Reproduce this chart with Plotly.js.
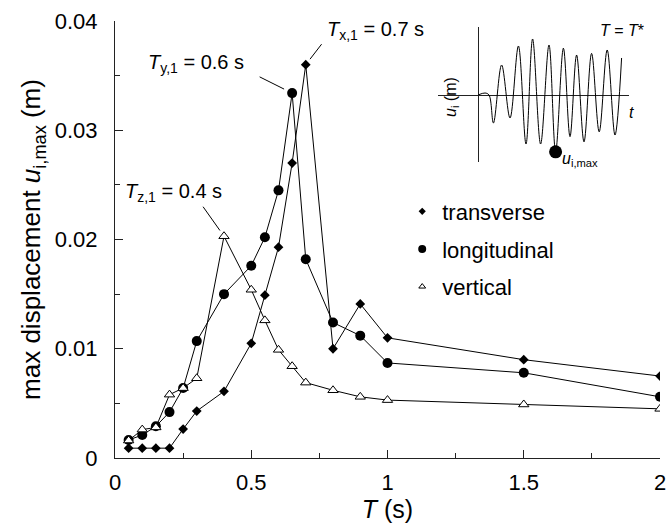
<!DOCTYPE html>
<html>
<head>
<meta charset="utf-8">
<script src="https://cdn.plot.ly/plotly-3.0.1.min.js"></script>
<style>html,body{margin:0;padding:0;background:#fff;}#chart{width:667px;height:531px;}</style>
</head>
<body>
<div id="chart"></div>
<script>
// Period T (s)
const periods = [0.05, 0.1, 0.15, 0.2, 0.25, 0.3, 0.4, 0.5, 0.55, 0.6, 0.65, 0.7, 0.8, 0.9, 1.0, 1.5, 2.0];
// max displacement u_i,max (m)
const transverse   = [0.0009, 0.0009, 0.0009, 0.0009, 0.00265, 0.0043, 0.0061, 0.0105, 0.0149, 0.0193, 0.0270, 0.0360, 0.0100, 0.0141, 0.0110, 0.0090, 0.0075];
const longitudinal = [0.00165, 0.0021, 0.0029, 0.0042, 0.0064, 0.0107, 0.0150, 0.0176, 0.0202, 0.0245, 0.0334, 0.0182, 0.0124, 0.0112, 0.0087, 0.0078, 0.0056];
const vertical     = [0.0016, 0.0026, 0.0028, 0.0058, 0.0064, 0.0073, 0.0203, 0.0154, 0.0126, 0.0099, 0.0084, 0.0069, 0.0062, 0.0056, 0.0053, 0.0049, 0.0045];
const seriesNames = ['transverse', 'longitudinal', 'vertical'];

// Inset schematic: extrema of the displacement history (arbitrary units)
const insetT = [0, 0.35, 0.55, 0.77, 1.18, 1.60, 2.02, 2.40, 2.73, 3.13, 3.55, 3.88, 4.27, 4.60, 4.93, 5.30, 5.68, 6.06, 6.46, 6.85, 7.18];
const insetU = [0, 0.05, 0, -0.70, 0.75, -0.575, 1.225, -1.225, 1.40, -1.225, 1.25, -1.42, 1.17, -1.04, 1.0, -1.17, 1.04, -0.92, 1.125, -1.0, 0.925];
const insetMaxT = [3.88];
const insetMaxU = [-1.42];

const FONT = 'Liberation Sans, Arial, sans-serif';
const ink = '#000';

const traces = [
  {x: periods, y: transverse, mode: 'lines+markers', showlegend: false,
   line: {color: ink, width: 1}, marker: {symbol: 'diamond', size: 7.5, color: ink}},
  {x: periods, y: longitudinal, mode: 'lines+markers', showlegend: false,
   line: {color: ink, width: 1}, marker: {symbol: 'circle', size: 10, color: ink}},
  {x: periods, y: vertical, mode: 'lines+markers', showlegend: false,
   line: {color: ink, width: 1}, marker: {symbol: 'triangle-up', size: 9, color: '#fff', line: {color: ink, width: 1}}},
  // legend entries (markers only)
  {x: [null], y: [null], mode: 'markers', name: seriesNames[0], legendgroup: 'a',
   marker: {symbol: 'diamond', size: 5.5, color: ink}},
  {x: [null], y: [null], mode: 'markers', name: seriesNames[1], legendgroup: 'b',
   marker: {symbol: 'circle', size: 8, color: ink}},
  {x: [null], y: [null], mode: 'markers', name: seriesNames[2], legendgroup: 'c',
   marker: {symbol: 'triangle-up', size: 6, color: '#fff', line: {color: ink, width: 1}}},
  // inset
  {x: insetT, y: insetU, xaxis: 'x2', yaxis: 'y2', mode: 'lines', showlegend: false,
   line: {color: ink, width: 1, shape: 'spline', smoothing: 1}},
  {x: insetMaxT, y: insetMaxU, xaxis: 'x2', yaxis: 'y2', mode: 'markers', showlegend: false,
   marker: {symbol: 'circle', size: 13, color: ink}}
];

const annFont = {family: FONT, size: 20, color: ink};
const insFont = {family: FONT, size: 16, color: ink};

const layout = {
  width: 667, height: 531,
  margin: {l: 115, r: 7, t: 21, b: 73},
  paper_bgcolor: '#fff', plot_bgcolor: '#fff',
  font: {family: FONT, color: ink, size: 22},
  showlegend: true,
  legend: {x: 0.527, y: 0.612, xanchor: 'left', yanchor: 'top', bgcolor: 'rgba(0,0,0,0)',
           font: {family: FONT, size: 22, color: ink}, traceorder: 'grouped', tracegroupgap: 6},
  xaxis: {
    range: [0, 2], showgrid: false, zeroline: false,
    showline: true, linecolor: '#222', linewidth: 1,
    ticks: 'inside', ticklen: 8, tickcolor: '#222', dtick: 0.5, tick0: 0,
    tickfont: {family: FONT, size: 22, color: ink}, ticklabelstandoff: 5,
    minor: {dtick: 0.25, ticks: 'inside', ticklen: 5, tickcolor: '#222'},
    title: {text: '<i>T</i> (s)', font: {family: FONT, size: 25, color: ink}, standoff: 4}
  },
  yaxis: {
    range: [0, 0.04], showgrid: false, zeroline: false,
    showline: true, linecolor: '#222', linewidth: 1,
    ticks: 'inside', ticklen: 8, tickcolor: '#222', dtick: 0.01, tick0: 0,
    tickfont: {family: FONT, size: 22, color: ink}, ticklabelstandoff: 12,
    minor: {dtick: 0.005, ticks: 'inside', ticklen: 5, tickcolor: '#222'},
    title: {text: 'max displacement <i>u</i><sub>i,max</sub> (m)', font: {family: FONT, size: 26, color: ink}, standoff: 6}
  },
  xaxis2: {domain: [0.5927, 0.9431], anchor: 'y2', range: [-2.0, 7.55],
           showgrid: false, showline: false, showticklabels: false, ticks: '',
           zeroline: true, zerolinecolor: '#222', zerolinewidth: 1, fixedrange: true},
  yaxis2: {domain: [0.6773, 0.9863], anchor: 'x2', range: [-1.675, 1.7],
           showgrid: false, showline: false, showticklabels: false, ticks: '',
           zeroline: true, zerolinecolor: '#222', zerolinewidth: 1, fixedrange: true},
  annotations: [
    // callout texts
    {xref: 'x', yref: 'y', x: 0.112, y: 0.0361, xanchor: 'left', yanchor: 'middle', showarrow: false,
     text: '<i>T</i><sub>y,1</sub> = 0.6 s', font: annFont},
    {xref: 'x', yref: 'y', x: 0.771, y: 0.0391, xanchor: 'left', yanchor: 'middle', showarrow: false,
     text: '<i>T</i><sub>x,1</sub> = 0.7 s', font: annFont},
    {xref: 'x', yref: 'y', x: 0.028, y: 0.0243, xanchor: 'left', yanchor: 'middle', showarrow: false,
     text: '<i>T</i><sub>z,1</sub> = 0.4 s', font: annFont},
    // callout leader lines
    {xref: 'x', yref: 'y', x: periods[10], y: longitudinal[10], text: '', showarrow: true,
     arrowhead: 0, arrowwidth: 1, arrowcolor: ink, ax: -34, ay: -17, standoff: 9},
    {xref: 'x', yref: 'y', x: periods[11], y: transverse[11], text: '', showarrow: true,
     arrowhead: 0, arrowwidth: 1, arrowcolor: ink, ax: 17, ay: -22, standoff: 7},
    {xref: 'x', yref: 'y', x: periods[6], y: vertical[6], text: '', showarrow: true,
     arrowhead: 0, arrowwidth: 1, arrowcolor: ink, ax: -22, ay: -31, standoff: 7},
    // inset labels
    {xref: 'paper', yref: 'paper', x: 0.9743, y: 0.9794, xanchor: 'right', yanchor: 'middle', showarrow: false,
     text: '<i>T</i> = <i>T</i>*', font: insFont},
    {xref: 'paper', yref: 'paper', x: 0.9486, y: 0.7895, xanchor: 'center', yanchor: 'middle', showarrow: false,
     text: '<i>t</i>', font: insFont},
    {xref: 'x2', yref: 'y2', x: -1.35, y: -0.05, xanchor: 'center', yanchor: 'middle', showarrow: false,
     textangle: -90, text: '<i>u</i><sub>i</sub> (m)', font: insFont},
    {xref: 'x2', yref: 'y2', x: 4.1, y: -1.62, xanchor: 'left', yanchor: 'middle', showarrow: false,
     text: '<i>u</i><sub>i,max</sub>', font: insFont}
  ]
};

Plotly.newPlot('chart', traces, layout, {displayModeBar: false, staticPlot: true});
</script>
</body>
</html>
